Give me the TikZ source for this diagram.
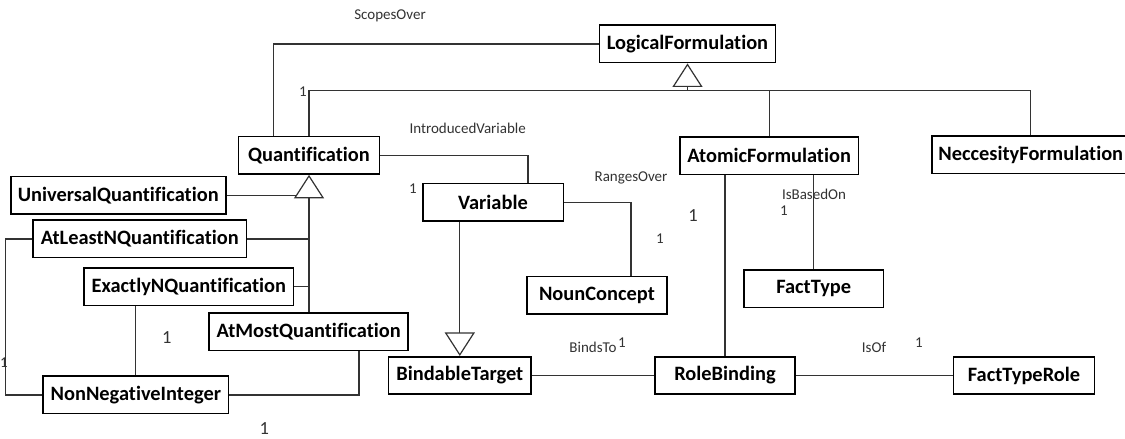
\documentclass[tikz,border=0pt]{standalone}
\usepackage{fontspec}
\setmainfont[Ligatures=CommonOff]{Carlito}
\usetikzlibrary{arrows.meta}
\begin{document}
\begin{tikzpicture}[x=1pt,y=-1pt,
  cls/.style={draw=black, line width=1.6pt, fill=white, inner sep=0pt,
    minimum height=37.5pt, font=\fontsize{20.4}{24}\selectfont\bfseries},
  assoc/.style={draw=black!80, line width=1.2pt},
  gen/.style={assoc, -{Triangle[length=23.5pt, width=30pt, fill=white, line width=1.2pt]}},
  rolename/.style={font=\fontsize{15}{18}\selectfont, text=black!80, inner sep=0pt},
  mult/.style={font=\fontsize{15}{18}\selectfont, text=black!80, inner sep=0pt},
  bigmult/.style={font=\fontsize{18.5}{22}\selectfont, text=black!80, inner sep=0pt}]
\clip (0,0) rectangle (1125,439);
\fill[white] (0,0) rectangle (1125,439);

% classes
\node[cls, minimum width=176pt]   (LF)  at (687.5,43.9)  {LogicalFormulation};
\node[cls, minimum width=140.7pt] (Q)   at (309,155.3)   {Quantification};
\node[cls, minimum width=215pt]   (U)   at (118.2,195.3) {UniversalQuantification};
\node[cls, minimum width=213.2pt] (AL)  at (139.8,238.9) {AtLeastNQuantification};
\node[cls, minimum width=209.7pt] (EN)  at (188.8,286.7) {ExactlyNQuantification};
\node[cls, minimum width=199.3pt] (AM)  at (308.6,331.7) {AtMostQuantification};
\node[cls, minimum width=185.6pt] (NN)  at (135.8,394.9) {NonNegativeInteger};
\node[cls, minimum width=140.6pt] (V)   at (493,202.2)   {Variable};
\node[cls, minimum width=140.2pt] (NC)  at (596.9,295.2) {NounConcept};
\node[cls, minimum width=142.4pt] (BT)  at (459.8,375.5) {BindableTarget};
\node[cls, minimum width=178.4pt] (AF)  at (769.2,155.7) {AtomicFormulation};
\node[cls, anchor=west, minimum width=198pt] (NF) at (931,154.7) {NeccesityFormulation};
\node[cls, minimum width=139.8pt] (FT)  at (813.7,288.7) {FactType};
\node[cls, minimum width=140.5pt] (RB)  at (725,375.5)   {RoleBinding};
\node[cls, minimum width=141pt]   (FTR) at (1024,375.5)  {FactTypeRole};

% bend points
\coordinate (scx) at (273.6,0);
\coordinate (lx)  at (5.7,0);
\coordinate (amx) at (358.9,0);
\coordinate (ivx) at (527.9,0);
\coordinate (rox) at (631,0);
\coordinate (nfx) at (1030.3,0);
\coordinate (bus) at (0,90.7);

% LogicalFormulation hierarchy
\draw[assoc] (Q.north -| scx) |- (LF.west);
\draw[assoc] (Q.north) -- (Q.north |- bus) -- (nfx |- bus) -- (nfx |- NF.north);
\draw[assoc] (AF.north) -- (AF.north |- bus);
\draw[gen] (LF.south |- bus) -- (LF.south);

% Quantification hierarchy
\draw[assoc] (U.east) -- (U.east -| Q.south);
\draw[assoc] (AL.east) -- (AL.east -| Q.south);
\draw[assoc] (EN.east) -- (EN.east -| Q.south);
\draw[gen] (AM.north -| Q.south) -- (Q.south);

% NonNegativeInteger links
\draw[assoc] (AL.west) -- (AL.west -| lx) |- (NN.west);
\draw[assoc] (NN.north) -- (NN.north |- EN.south);
\draw[assoc] (NN.east) -| (AM.south -| amx);

% Variable links
\draw[assoc] (Q.east) -| (V.north -| ivx);
\draw[assoc] (V.east) -| (NC.north -| rox);
\draw[gen] (V.south -| BT.north) -- (BT.north);

% AtomicFormulation links
\draw[assoc] (AF.south -| RB.north) -- (RB.north);
\draw[assoc] (AF.south -| FT.north) -- (FT.north);
\draw[assoc] (BT.east) -- (RB.west);
\draw[assoc] (RB.east) -- (FTR.west);

% role names and multiplicities
\node[rolename] (lScopes) at (390,16)    {ScopesOver};
\node[mult]     (mScopes) at (303,92)    {1};
\node[rolename] (lIntro)  at (467.7,128) {IntroducedVariable};
\node[mult]     (mIntro)  at (413,189)   {1};
\node[rolename] (lRanges) at (631,178)   {RangesOver};
\node[mult]     (mRanges) at (660,239)   {1};
\node[bigmult]  (mAtomic) at (693,216)   {1};
\node[rolename] (lBased)  at (814,194)   {IsBasedOn};
\node[mult]     (mBased)  at (784,211)   {1};
\node[mult]     (mLeast)  at (4,363)     {1};
\node[bigmult]  (mExact)  at (166.7,338) {1};
\node[bigmult]  (mMost)   at (264.3,429) {1};
\node[rolename] (lBinds)  at (593,347)   {BindsTo};
\node[mult]     (mBinds)  at (622,343)   {1};
\node[rolename] (lIsOf)   at (874,347)   {IsOf};
\node[mult]     (mIsOf)   at (919,343)   {1};
\end{tikzpicture}
\end{document}
